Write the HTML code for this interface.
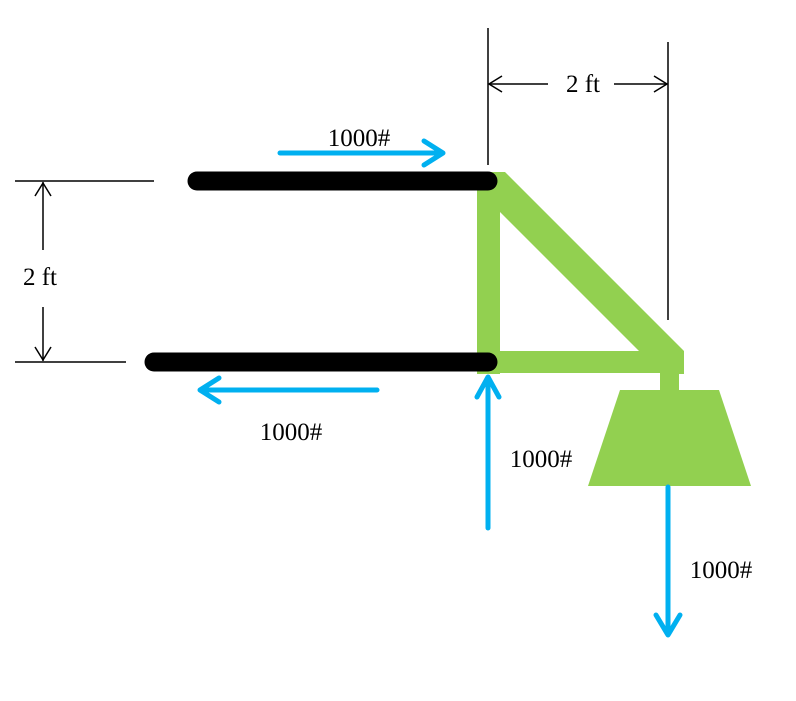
<!DOCTYPE html>
<html><head><style>body{margin:0;background:#fff}svg{display:block}</style></head><body>
<svg width="796" height="701" viewBox="0 0 796 701" xmlns="http://www.w3.org/2000/svg">
<g font-family="Liberation Serif, serif" font-size="25" fill="#000">
<rect x="477" y="181" width="23" height="193" fill="#92d050"/>
<polygon points="489,172 505,172 684,351 684,374 662,374 477,189" fill="#92d050"/>
<rect x="477" y="351" width="207" height="22" fill="#92d050"/>
<rect x="660" y="372" width="19" height="19" fill="#92d050"/>
<polygon points="620,390 719,390 751,486 588,486" fill="#92d050"/>
<line x1="197" y1="181" x2="488" y2="181" stroke="#000" stroke-width="19" stroke-linecap="round"/>
<line x1="154" y1="362" x2="488" y2="362" stroke="#000" stroke-width="19" stroke-linecap="round"/>
<g stroke="#000" stroke-width="1.5" fill="none">
<line x1="488" y1="28" x2="488" y2="165"/>
<line x1="668" y1="42" x2="668" y2="320"/>
<line x1="489" y1="84" x2="548" y2="84"/>
<line x1="614" y1="84" x2="667" y2="84"/>
<polyline points="502,76 489,84 502,92"/>
<polyline points="654,76 667,84 654,92"/>
<line x1="15" y1="181" x2="154" y2="181"/>
<line x1="15" y1="362" x2="126" y2="362"/>
<line x1="43" y1="182" x2="43" y2="250"/>
<line x1="43" y1="307" x2="43" y2="361"/>
<polyline points="35,196 43,183 51,196"/>
<polyline points="35,347 43,360 51,347"/>
</g>
<text x="583" y="92" text-anchor="middle">2 ft</text>
<text x="40" y="285" text-anchor="middle">2 ft</text>
<g stroke="#00b0f0" stroke-width="5" fill="none" stroke-linecap="round" stroke-linejoin="round">
<line x1="280" y1="153" x2="442" y2="153"/>
<polyline points="424,141 443,153 424,165"/>
<line x1="377" y1="390" x2="201" y2="390"/>
<polyline points="219,378 200,390 219,402"/>
<line x1="488" y1="528" x2="488" y2="378"/>
<polyline points="477,397 488,377 499,397"/>
<line x1="668" y1="487" x2="668" y2="634"/>
<polyline points="656,615 668,635 680,615"/>
</g>
<text x="359" y="146" text-anchor="middle">1000#</text>
<text x="291" y="440" text-anchor="middle">1000#</text>
<text x="541" y="467" text-anchor="middle">1000#</text>
<text x="721" y="578" text-anchor="middle">1000#</text>
</g>
</svg>
</body></html>
